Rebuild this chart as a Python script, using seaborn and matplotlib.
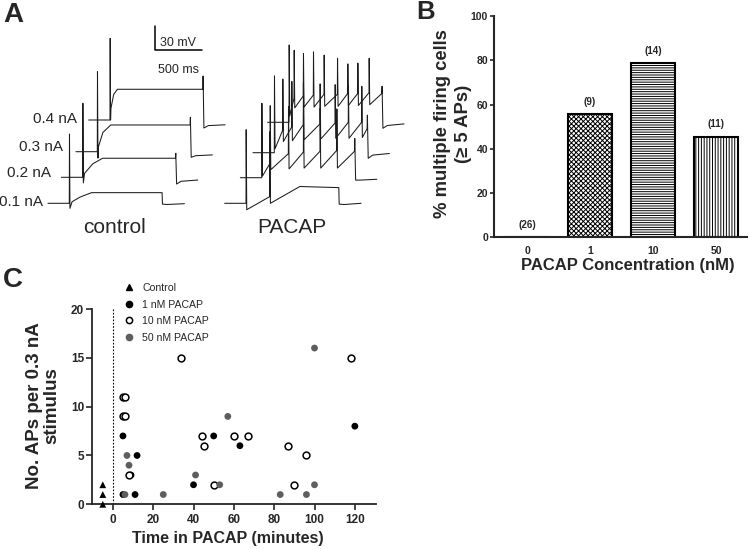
import numpy as np
import pandas as pd
import matplotlib
matplotlib.use("Agg")
import matplotlib.pyplot as plt
import seaborn as sns
from matplotlib.lines import Line2D

sns.set_theme(style="ticks")
plt.rcParams['font.family'] = ['Liberation Sans', 'DejaVu Sans']
plt.rcParams['hatch.linewidth'] = 0.7

W, H = 749, 549
MS_PER_PX = 500 / 46.4   # from the 500 ms scale bar
MV_PER_PX = 30 / 24.0    # from the 30 mV scale bar

# ---------------- panel A: current-clamp traces (ms from step onset, mV from rest)
step_labels = ["0.1 nA", "0.2 nA", "0.3 nA", "0.4 nA"]

ctrl_t = [
    [-230, 0, 2, 7, 30, 120, 240, 1000, 1004, 1050, 1240],
    [-230, 0, 2, 7, 20, 110, 215, 1000, 1003, 1012, 1060, 1240],
    [-230, 0, 2, 7, 12, 60, 145, 1000, 1003, 1012, 1060, 1240],
    [-230, 0, 2, 6, 10, 40, 80, 1000, 1003, 1012, 1060, 1240],
]
ctrl_v = [
    [0, 0, 86.6, -6.3, 2, 8, 13.3, 13.3, -1, -1.5, -0.5],
    [0, 0, 92.5, -7, 5, 17, 23.8, 23.8, 30, -8.4, -5, -3.4],
    [0, 0, 100, -8, 6, 24, 33.4, 33.4, 43, -7, -5, -4],
    [0, 0, 102, 0, 14.6, 32, 38.4, 38.4, 55, -10, -7, -6],
]

pac_spike_t = [
    [0, 255],
    [0, 90, 287, 449, 628, 808],
    [0, 90, 187, 312, 492, 654, 797, 941],
    [0, 54, 154, 262, 377, 521, 632, 740, 862],
]
pac_spike_peak = [
    [92, 89.6],
    [93, 90, 89, 88, 87, 86],
    [96, 92, 89, 88, 86, 85, 84, 83],
    [96.7, 90, 86, 88, 84, 80, 73, 74, 80],
]
pac_thresh = [
    [0, 8.3],
    [0, 18, 30, 32, 33, 34],
    [0, 28, 32, 35, 36, 37, 38, 38],
    [0, 30, 33, 34, 35, 35, 36, 36, 37],
]
pac_trough = [
    [-8, 0],
    [2, 10, 11, 12, 12, 12],
    [5, 14, 15, 16, 17, 18, 18, 19],
    [8, 18, 19, 19, 20, 20, 21, 21, 22],
]
pac_tail_t = [
    [580, 1000, 1004, 1060, 1240],
    [1000, 1003, 1012, 1060, 1240],
    [1000, 1003, 1012, 1060, 1240],
    [1000, 1003, 1012, 1060, 1240],
]
pac_tail_v = [
    [21, 19.6, -1, -1.5, 0],
    [33, 49, -3, -3, -2],
    [30, 47, -7, -3, -1],
    [36, 45, -7.5, -4, -2],
]

# where each trace sits in the montage (image pixels: step onset x, resting level y)
ctrl_pos = [(69.3, 203.3), (82.7, 177.3), (97.3, 151.7), (110, 120)]
pac_pos = [(246, 203.3), (261.7, 177.7), (274.3, 152.7), (289, 122.3)]
label_pos = [(43.3, 201.7), (50.7, 173.3), (63.3, 146.7), (77.3, 119)]

# ---------------- panel B
conc = ["0", "1", "10", "50"]
pct_multi = [0, 55.6, 78.6, 45.5]
n_cells = [26, 9, 14, 11]

# ---------------- panel C
ctrl_time = [-5, -5, -5]
ctrl_aps = [2, 1, 0]
nm1_time = [5, 5, 9, 11, 12, 40, 50, 63, 120]
nm1_aps = [1, 7, 3, 1, 5, 2, 7, 6, 8]
nm10_time = [5, 6, 5, 6, 8, 34, 44, 45, 50, 60, 67, 87, 90, 96, 118]
nm10_aps = [11, 11, 9, 9, 3, 15, 7, 6, 2, 7, 7, 6, 2, 5, 15]
nm50_time = [6, 7, 8, 25, 41, 53, 57, 83, 96, 100, 100]
nm50_aps = [1, 5, 4, 1, 3, 2, 9, 1, 1, 2, 16]


def box(left, top, right, bottom):
    return [left / W, 1 - bottom / H, (right - left) / W, (bottom - top) / H]


def fx(px):
    return px / W


def fy(py):
    return 1 - py / H


def pacap_trace(st, pk, th, tr, tt, tv):
    t, v = [-230], [0]
    for i in range(len(st)):
        t += [st[i], st[i] + 2, st[i] + 8]
        v += [th[i], pk[i], tr[i]]
    return t + tt, v + tv


fig = plt.figure(figsize=(7.49, 5.49), dpi=100)

# ---------- A
ax_a = fig.add_axes(box(0, 0, 410, 235))
trace_kw = dict(sort=False, estimator=None, color="#1c1c1c", linewidth=0.75, ax=ax_a)
for i in range(4):
    ox, oy = ctrl_pos[i]
    sns.lineplot(x=np.array(ctrl_t[i]) + ox * MS_PER_PX,
                 y=np.array(ctrl_v[i]) + (235 - oy) * MV_PER_PX, **trace_kw)
    t, v = pacap_trace(pac_spike_t[i], pac_spike_peak[i], pac_thresh[i],
                       pac_trough[i], pac_tail_t[i], pac_tail_v[i])
    ox, oy = pac_pos[i]
    sns.lineplot(x=np.array(t) + ox * MS_PER_PX,
                 y=np.array(v) + (235 - oy) * MV_PER_PX, **trace_kw)
    fig.text(fx(label_pos[i][0]), fy(label_pos[i][1]), step_labels[i],
             ha="right", va="center", fontsize=11)

# scale bar
sx, sy = 155.3 * MS_PER_PX, (235 - 50) * MV_PER_PX
ax_a.plot([sx, sx, sx + 500], [sy + 30, sy, sy], color="black", lw=1.1)
ax_a.set_xlim(0, 410 * MS_PER_PX)
ax_a.set_ylim(0, 235 * MV_PER_PX)
ax_a.axis("off")
fig.text(fx(160), fy(43.3), "30 mV", ha="left", va="center", fontsize=9)
fig.text(fx(178.3), fy(70), "500 ms", ha="center", va="center", fontsize=9)
fig.text(fx(115), fy(233), "control", ha="center", va="baseline", fontsize=15)
fig.text(fx(291.7), fy(233), "PACAP", ha="center", va="baseline", fontsize=15)

# ---------- B
ax_b = fig.add_axes(box(494.3, 16, 747, 237.3))
sns.barplot(x=conc, y=pct_multi, order=conc, color="white", edgecolor="black",
            linewidth=1.5, width=0.69, saturation=1, ax=ax_b)
hatches = ["", "xxxxxxx", "-------", "||||||"]
for patch, h in zip(ax_b.patches, hatches):
    patch.set_hatch(h)
for i, (p, n) in enumerate(zip(pct_multi, n_cells)):
    ax_b.text(i, p + 3.5, f"({n})", ha="center", va="bottom", fontsize=7, weight="bold")
ax_b.set_ylim(0, 100)
ax_b.set_xlim(-0.52, 3.49)
ax_b.set_yticks(range(0, 101, 20))
ax_b.set_xlabel("")
ax_b.set_ylabel("")
sns.despine(ax=ax_b)
for s in ["left", "bottom"]:
    ax_b.spines[s].set_linewidth(1.5)
ax_b.tick_params(axis="y", length=3, width=1.2, pad=1.5, labelsize=7.5)
ax_b.tick_params(axis="x", length=0, pad=6, labelsize=7.5)
for lab in ax_b.get_xticklabels() + ax_b.get_yticklabels():
    lab.set_fontweight("bold")
fig.text(fx(453), fy(124), "% multiple firing cells\n(\u2265 5 APs)", rotation=90,
         ha="center", va="center", multialignment="center", fontsize=13.3,
         weight="bold", linespacing=1.3)
fig.text(fx(627.5), fy(266), "PACAP Concentration (nM)", ha="center", va="center",
         fontsize=12, weight="bold")

# ---------- C
ax_c = fig.add_axes(box(91.7, 309, 376, 504.3))
ax_c.axvline(0, color="black", lw=0.8, ls=(0, (1.5, 1.5)))
sc_kw = dict(s=24, clip_on=False, ax=ax_c, zorder=3)
sns.scatterplot(x=ctrl_time, y=ctrl_aps, marker="^", color="black", edgecolor="none", **sc_kw)
sns.scatterplot(x=nm1_time, y=nm1_aps, marker="o", color="black", edgecolor="none", **sc_kw)
sns.scatterplot(x=nm10_time, y=nm10_aps, marker="o", facecolor="white", edgecolor="black",
                linewidth=1.1, **sc_kw)
sns.scatterplot(x=nm50_time, y=nm50_aps, marker="o", color="#5e5e5e", edgecolor="none", **sc_kw)
ax_c.set_xlim(-10.5, 130.5)
ax_c.set_ylim(0, 20)
ax_c.set_xticks(range(0, 121, 20))
ax_c.set_yticks(range(0, 21, 5))
sns.despine(ax=ax_c)
for s in ["left", "bottom"]:
    ax_c.spines[s].set_linewidth(1.3)
ax_c.tick_params(axis="both", length=4, width=1.2, labelsize=8.5)
ax_c.tick_params(axis="y", pad=1.5)
ax_c.tick_params(axis="x", pad=3)
for lab in ax_c.get_xticklabels() + ax_c.get_yticklabels():
    lab.set_fontweight("bold")

handles = [
    Line2D([], [], ls="", marker="^", color="black", markersize=4.5),
    Line2D([], [], ls="", marker="o", color="black", markersize=4.5),
    Line2D([], [], ls="", marker="o", markerfacecolor="white", markeredgecolor="black",
           markeredgewidth=1.1, markersize=4.5),
    Line2D([], [], ls="", marker="o", color="#5e5e5e", markersize=4.5),
]
labels = ["Control", "1 nM PACAP", "10 nM PACAP", "50 nM PACAP"]
ax_c.legend(handles, labels, loc="upper left", bbox_to_anchor=(fx(125.4), fy(283)),
            bbox_transform=fig.transFigure, frameon=False, fontsize=7.6, borderpad=0,
            borderaxespad=0, handlelength=0.75, handletextpad=0.85, labelspacing=0.62)
fig.text(fx(43), fy(406), "No. APs per 0.3 nA\nstimulus", rotation=90, ha="center",
         va="center", multialignment="center", fontsize=13.5, weight="bold", linespacing=1.0)
fig.text(fx(228.3), fy(538.3), "Time in PACAP (minutes)", ha="center", va="center",
         fontsize=11.5, weight="bold")

# panel letters
fig.text(fx(3.3), fy(21.7), "A", fontsize=20, weight="bold", va="baseline")
fig.text(fx(416.7), fy(19.3), "B", fontsize=18.5, weight="bold", va="baseline")
fig.text(fx(3.3), fy(287), "C", fontsize=20, weight="bold", va="baseline")

fig.savefig("out.png", dpi=100)
